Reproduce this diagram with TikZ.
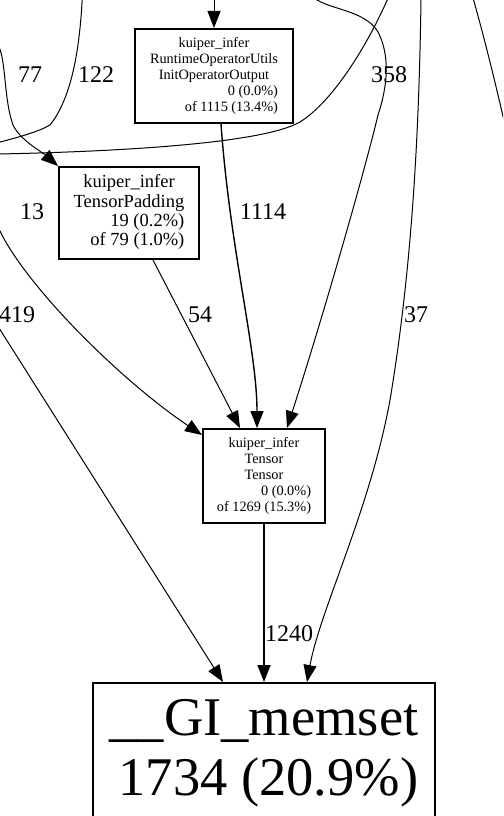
\documentclass[tikz,border=0pt]{standalone}
\usepackage{fontspec}
\setmainfont{Liberation Serif}
\usetikzlibrary{arrows.meta, calc}
\newcommand{\rline}[1]{\multicolumn{1}{@{}r@{}}{#1}}

\begin{document}
\begin{tikzpicture}[
    x=1pt, y=-1pt,
    fn/.style={
        rectangle, draw, line width=2pt, inner sep=0pt,
        font=\fontsize{14.3}{16.1}\selectfont
    },
    link/.style={
        -{Triangle[length=17pt, width=13pt]}, line width=1pt
    },
    heavy/.style={link, line width=1.4pt},
    thru/.style={line width=1pt},
    lbl/.style={
        font=\fontsize{24}{26}\selectfont, inner sep=0pt
    }
]
\useasboundingbox (0,0) rectangle (503,816);
\clip (0,0) rectangle (503,816);

\node[fn, minimum width=158pt, minimum height=94pt] (init) at (214,76)
    {\begin{tabular}{@{}c@{}}kuiper\_infer\\RuntimeOperatorUtils\\InitOperatorOutput\\
     \rline{0 (0.0\%)}\\\rline{of 1115 (13.4\%)}\end{tabular}};
\node[fn, font=\fontsize{18.5}{19.4}\selectfont,
      minimum width=140pt, minimum height=92pt] (pad) at (129,213)
    {\begin{tabular}{@{}c@{}}kuiper\_infer\\TensorPadding\\
     \rline{19 (0.2\%)}\\\rline{of 79 (1.0\%)}\end{tabular}};
\node[fn, minimum width=122pt, minimum height=94pt] (tensor) at (264,476)
    {\begin{tabular}{@{}c@{}}kuiper\_infer\\Tensor\\Tensor\\
     \rline{0 (0.0\%)}\\\rline{of 1269 (15.3\%)}\end{tabular}};
\node[fn, font=\fontsize{54.5}{60}\selectfont,
      minimum width=342pt, minimum height=140pt] (mem) at (264,753)
    {\begin{tabular}{@{}c@{}}\_\_GI\_memset\\\rline{1734 (20.9\%)}\end{tabular}};

% loose ends coming in from outside the frame
\coordinate (inA) at (214,-4);
\coordinate (in77) at (-1,47);
\coordinate (top122) at (82.3,-2);
\coordinate (out122) at (-2,142.5);
\coordinate (inB) at (-2,154);
\coordinate (outB) at (389,-4);
\coordinate (in358) at (314,-2);
\coordinate (in37) at (421,-2);
\coordinate (inR) at (473,-2);
\coordinate (outR) at (505,125);
\coordinate (in13) at (-1,229);
\coordinate (in419) at (-1,328);

\draw[link] (inA) -- (init.north);
\draw[link] (in77) .. controls (6,62) and (4,100) .. (13,125)
    .. controls (20,140) and (42,152) .. (pad.north west);
\draw[thru] (top122) .. controls (80,40) and (74,95) .. (50,125)
    .. controls (40,131) and (20,137) .. (out122);
\draw[thru] (inB) .. controls (100,152) and (260,145) .. (300,122)
    .. controls (335,100) and (370,40) .. (outB);
\draw[link] (in358) .. controls (330,10) and (365,10) .. (378,32)
    .. controls (390,55) and (388,85) .. (378,115)
    .. controls (365,170) and (322,320) .. ([xshift=23pt]tensor.north);
\draw[link] (in37) .. controls (419,150) and (410,280) .. (390,400)
    .. controls (370,510) and (320,610) .. ([xshift=43pt]mem.north);
\draw[thru] (inR) .. controls (485,40) and (497,90) .. (outR);
\draw[link] (in13) .. controls (25,285) and (120,380) .. ([yshift=-7pt]tensor.north west);
\draw[link] (in419) -- ([xshift=-41pt]mem.north);
\draw[link] ([xshift=24pt]pad.south) -- ([xshift=-24pt]tensor.north);
\draw[heavy] ([xshift=7pt]init.south) .. controls (230,250) and (257,350) .. ([xshift=-7pt]tensor.north);
\draw[heavy] (tensor.south) -- (mem.north);

\node[lbl] (l77) at (30,75) {77};
\node[lbl] (l122) at (96,75) {122};
\node[lbl] (l358) at (389,75) {358};
\node[lbl] (l13) at (32,212) {13};
\node[lbl] (l1114) at (263,212) {1114};
\node[lbl] (l419) at (17,315) {419};
\node[lbl] (l54) at (200,315) {54};
\node[lbl] (l37) at (416,315) {37};
\node[lbl] (l1240) at (289,634) {1240};
\end{tikzpicture}
\end{document}
